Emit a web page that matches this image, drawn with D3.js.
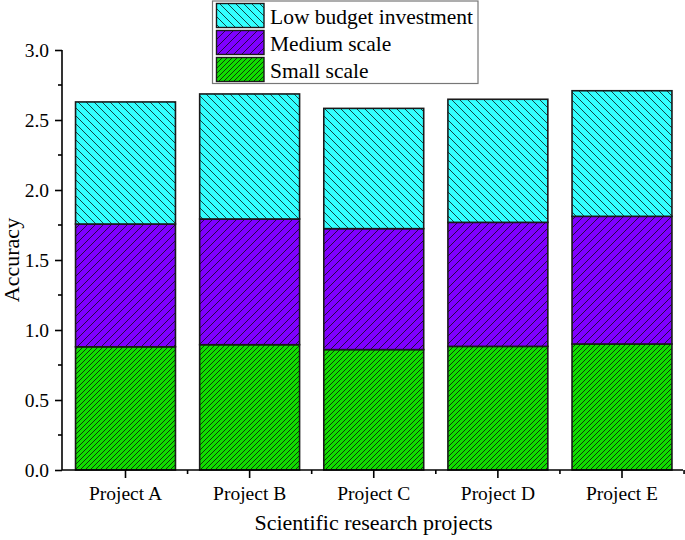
<!DOCTYPE html>
<html>
<head>
<meta charset="utf-8">
<script src="https://cdn.jsdelivr.net/npm/d3@7"></script>
<style>
html,body{margin:0;padding:0;background:#fff;}
svg{display:block;}
svg text{font-family:"Liberation Serif","Times New Roman",serif !important;fill:#000;}
</style>
</head>
<body>
<svg id="chart" width="685" height="540"></svg>
<script>
const categories = ["Project A", "Project B", "Project C", "Project D", "Project E"];
const seriesNames = ["Small scale", "Medium scale", "Low budget investment"];
const smallScale = [0.880, 0.895, 0.860, 0.883, 0.900];
const mediumScale = [0.877, 0.898, 0.864, 0.886, 0.912];
const lowBudget = [0.872, 0.893, 0.859, 0.879, 0.897];
const yTicks = [0.0, 0.5, 1.0, 1.5, 2.0, 2.5, 3.0];
const xTitle = "Scientific research projects";
const yTitle = "Accuracy";

const colors = {"Small scale": "#11dd00", "Medium scale": "#7f00ff", "Low budget investment": "#33ffff"};
const hatch = {"Small scale": {dir: "/", s: 5}, "Medium scale": {dir: "/", s: 8}, "Low budget investment": {dir: "\\", s: 8}};

const rows = categories.map((c, i) => ({cat: c, "Small scale": smallScale[i], "Medium scale": mediumScale[i], "Low budget investment": lowBudget[i]}));
const stacked = d3.stack().keys(seriesNames)(rows);

const svg = d3.select("#chart");
const x0 = 62, x1 = 683, yBottom = 470, yTop = 50;
const x = d3.scaleBand().domain(categories).range([x0 + 1.5, x1 + 1]).paddingInner(0.195).paddingOuter(0.097);
const y = d3.scaleLinear().domain([0, 3]).range([yBottom, yTop]);

// patterns
const defs = svg.append("defs");
seriesNames.forEach((k, i) => {
  const h = hatch[k];
  const p = defs.append("pattern").attr("id", "pat" + i).attr("patternUnits", "userSpaceOnUse")
    .attr("width", h.s).attr("height", h.s);
  p.append("rect").attr("width", h.s).attr("height", h.s).attr("fill", colors[k]);
  const lines = h.dir === "/" ? [[0, h.s, h.s, 0], [-h.s, h.s, h.s, -h.s], [0, 2*h.s, 2*h.s, 0]]
                              : [[0, 0, h.s, h.s], [-h.s, 0, h.s, 2*h.s], [0, -h.s, 2*h.s, h.s]];
  lines.forEach(l => p.append("line").attr("x1", l[0]).attr("y1", l[1]).attr("x2", l[2]).attr("y2", l[3])
    .attr("stroke", "#0a0a0a").attr("stroke-width", 0.9).attr("stroke-opacity", 0.85));
});

// bars
stacked.forEach((layer, i) => {
  svg.append("g").selectAll("rect").data(layer).join("rect")
    .attr("x", d => x(d.data.cat))
    .attr("width", x.bandwidth())
    .attr("y", d => y(d[1]))
    .attr("height", d => y(d[0]) - y(d[1]))
    .attr("fill", "url(#pat" + i + ")")
    .attr("stroke", "#1a1a1a").attr("stroke-width", 1.6);
});

// y axis
const yAxis = d3.axisLeft(y).tickValues(yTicks).tickFormat(d3.format(".1f")).tickSizeOuter(0).tickSize(7).tickPadding(6);
const gy = svg.append("g").attr("transform", `translate(${x0},0)`).call(yAxis)
  .attr("font-family", "Liberation Serif").attr("font-size", 19.5);
gy.select(".domain").attr("stroke", "#000").attr("stroke-width", 1.6).attr("d", `M0,${yBottom}V${yTop}`);
gy.selectAll(".tick line").attr("stroke", "#000").attr("stroke-width", 1.6);
gy.selectAll(".tick text").attr("font-size", 19.5).attr("fill", "#000");
const minorY = d3.range(0.25, 3, 0.5);
gy.selectAll(".minor").data(minorY).join("line").attr("class", "minor")
  .attr("x1", -4).attr("x2", 0).attr("y1", d => y(d)).attr("y2", d => y(d))
  .attr("stroke", "#000").attr("stroke-width", 1.6);

// x axis
const xAxis = d3.axisBottom(x).tickSizeOuter(0).tickSize(8).tickPadding(8);
const gx = svg.append("g").attr("transform", `translate(0,${yBottom})`).call(xAxis)
  .attr("font-family", "Liberation Serif").attr("font-size", 19.5);
gx.select(".domain").attr("stroke", "#000").attr("stroke-width", 1.6).attr("d", `M${x0},0H${x1}`);
gx.selectAll(".tick line").attr("stroke", "#000").attr("stroke-width", 1.6);
gx.selectAll(".tick text").attr("font-size", 19.5).attr("fill", "#000");
const step = x.step();
const minorX = categories.map(c => x(c) + x.bandwidth() / 2 + step / 2);
gx.selectAll(".minor").data(minorX).join("line").attr("class", "minor")
  .attr("x1", d => d).attr("x2", d => d).attr("y1", 0).attr("y2", 4)
  .attr("stroke", "#000").attr("stroke-width", 1.6);

// axis titles
svg.append("text").attr("x", (x0 + x1) / 2 + 1).attr("y", 530).attr("text-anchor", "middle")
  .attr("font-size", 22).text(xTitle);
svg.append("text").attr("transform", `translate(19,${(yBottom + yTop) / 2}) rotate(-90)`)
  .attr("text-anchor", "middle").attr("font-size", 22).text(yTitle);

// legend
const lg = svg.append("g");
lg.append("rect").attr("x", 212.5).attr("y", 1).attr("width", 265.5).attr("height", 82.5)
  .attr("fill", "#fff").attr("stroke", "#777").attr("stroke-width", 1.2);
const legendOrder = ["Low budget investment", "Medium scale", "Small scale"];
legendOrder.forEach((k, i) => {
  const yy = 3.5 + i * 27;
  lg.append("rect").attr("x", 216.5).attr("y", yy).attr("width", 47.5).attr("height", 24)
    .attr("fill", "url(#pat" + seriesNames.indexOf(k) + ")").attr("stroke", "#1a1a1a").attr("stroke-width", 1.4);
  lg.append("text").attr("x", 270).attr("y", yy + 20.5).attr("font-size", 21.5).text(k);
});
</script>
</body>
</html>
